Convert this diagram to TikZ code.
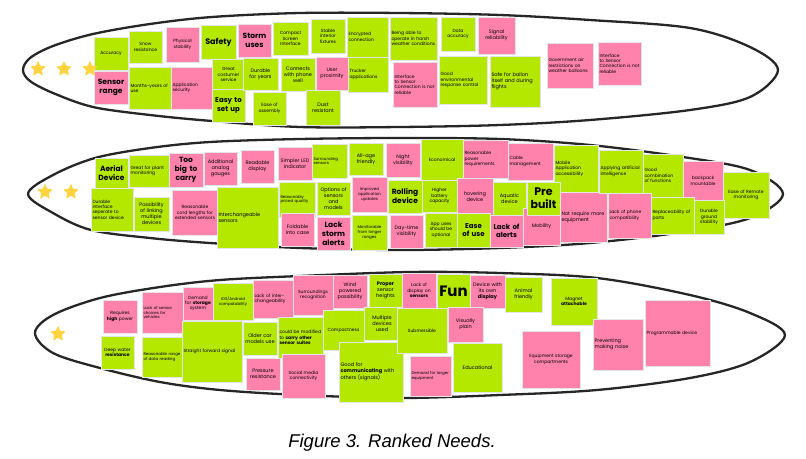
\documentclass[tikz,border=0pt]{standalone}
\usepackage{fontspec}
\setmainfont{Poppins}
\newfontfamily\capfont{Liberation Sans}
\usetikzlibrary{shapes.geometric}
\definecolor{grnC}{RGB}{180,232,0}
\definecolor{pnkC}{RGB}{255,130,172}
\definecolor{starC}{RGB}{255,212,64}
\hyphenpenalty=10000\relax
\exhyphenpenalty=10000\relax
\tikzset{
 stkbase/.style={inner sep=0pt, draw=black!10, line width=0.5pt, text=black},
 grn/.style={stkbase, fill=grnC, align=center},
 pnk/.style={stkbase, fill=pnkC, align=center},
 grnl/.style={stkbase, fill=grnC, align=left},
 pnkl/.style={stkbase, fill=pnkC, align=left},
 starmark/.style={star, star points=5, star point ratio=2.3, fill=starC, minimum size=17pt, inner sep=0pt, rounded corners=1pt},
 lens/.style={line width=2.3pt, draw=black!85}
}
\newcommand\stk[8]{%
 \pgfmathsetmacro\stkw{#4-#2}\pgfmathsetmacro\stkh{#5-#3}%
 \pgfmathsetmacro\stkx{(#2+#4)/2}\pgfmathsetmacro\stky{(#3+#5)/2}%
 \pgfmathsetmacro\stkt{#4-#2-3}\pgfmathsetmacro\stkl{#7*1.2}%
 \node[#6, minimum width=\stkw pt, minimum height=\stkh pt, text width=\stkt pt, font=\fontsize{#7}{\stkl}\selectfont] (#1) at (\stkx,\stky) {#8};}
\begin{document}
\begin{tikzpicture}[x=1pt,y=-1pt]
\fill[white] (0,0) rectangle (806,458);
\useasboundingbox (0,0) rectangle (806,458);
% lenses
\draw[lens] plot[smooth cycle, tension=0.55] coordinates {(23,70) (30,58) (53,46) (93,34) (150,24) (212,17) (300,13) (400,13) (500,15) (590,20) (690,28) (750,47) (778,70) (750,97) (690,110) (590,120) (500,125) (400,127) (300,127) (212,121) (150,115) (93,107) (53,93) (30,81)};
\draw[lens] plot[smooth cycle, tension=0.55] coordinates {(28,194) (53,175) (95,158) (150,148) (210,142) (300,139) (400,138) (500,139) (590,145) (683,157) (750,170) (783,194) (750,218) (683,232) (590,243) (500,248) (400,250) (300,248) (210,243) (150,238) (91,230) (53,213)};
\draw[lens] plot[smooth cycle, tension=0.55] coordinates {(35,333) (53,315) (100,298) (160,287) (220,280) (300,276) (410,272) (500,273) (597,278) (690,295) (750,313) (785,335) (750,362) (690,378) (597,390) (500,395) (400,398) (300,395) (220,390) (160,382) (100,368) (53,353)};
% top row
\stk{t1}{94}{37}{128}{70}{grn}{4.5}{Accuracy}
\stk{t2}{129}{31}{162}{63}{grn}{4.5}{Snow resistance}
\stk{t3}{166}{27}{199}{62}{pnk}{4.5}{Physical stability}
\stk{t4}{201}{25}{236}{59}{grn}{8}{\bfseries Safety}
\stk{t5}{94}{71}{128}{104}{pnk}{7.5}{\bfseries Sensor range}
\stk{t6}{129}{67}{171}{109}{grnl}{4.5}{Months-years of use}
\stk{t7}{171}{67}{213}{109}{pnkl}{4.5}{Application security}
\stk{t8}{212}{59}{245}{90}{grn}{4.5}{Great costumer service}
\stk{t9}{212}{89}{245}{122}{grn}{7}{\bfseries Easy to set up}
\stk{t10}{238}{24}{271}{57}{pnk}{7.5}{\bfseries Storm uses}
\stk{t11}{273}{22}{308}{55}{grn}{4.5}{Compact Screen Interface}
\stk{t12}{311}{19}{345}{53}{grn}{4.5}{Stable interior fixtures}
\stk{t13}{347}{17}{388}{57}{grnl}{4.5}{Encrypted connection}
\stk{t14}{390}{17}{437}{60}{grnl}{4.5}{Being able to operate in harsh weather conditions}
\stk{t15}{243}{58}{278}{90}{grn}{5}{Durable for years}
\stk{t16}{281}{58}{315}{91}{grn}{5}{Connects with phone well}
\stk{t17}{316}{57}{348}{90}{pnk}{5}{User proximity}
\stk{t18}{348}{57}{388}{92}{grnl}{4.5}{Trucker applications}
\stk{t19}{393}{62}{437}{107}{pnkl}{4.5}{Interface to Sensor Connection is not reliable}
\stk{t20}{253}{92}{286}{125}{grn}{4.5}{Ease of assembly}
\stk{t21}{306}{90}{340}{125}{grn}{5}{Dust resistant}
\stk{t22}{441}{17}{475}{51}{grn}{4.5}{Data accuracy}
\stk{t23}{478}{17}{515}{54}{pnk}{5}{Signal reliability}
\stk{t24}{439}{56}{487}{104}{grnl}{4.5}{Good environmental response control}
\stk{t25}{490}{56}{540}{107}{grnl}{5}{Safe for ballon itself and during flights}
\stk{t26}{547}{43}{593}{88}{pnkl}{4.5}{Government air restrictions on weather balloons}
\stk{t27}{598}{42}{641}{85}{pnkl}{4.5}{Interface to Sensor Connection is not reliable}
% middle row
\stk{m1}{95}{158}{128}{188}{grn}{7.5}{\bfseries Aerial Device}
\stk{m2}{129}{155}{169}{187}{grnl}{4.5}{Great for plant monitoring}
\stk{m3}{169}{153}{203}{187}{pnk}{7.5}{\bfseries Too big to carry}
\stk{m4}{204}{152}{237}{185}{pnk}{5}{Additional analog gauges}
\stk{m5}{91}{188}{133}{231}{grnl}{4.5}{Durable interface seperate to sensor device}
\stk{m6}{134}{197}{169}{231}{grn}{5}{Possibility of linking multiple devices}
\stk{m7}{172}{190}{218}{235}{pnk}{4.5}{Reasonable cord lengths for extended sensors}
\stk{m8}{217}{187}{278}{248}{grnl}{5}{Interchangeable sensors}
\stk{m9}{241}{150}{274}{183}{pnk}{5}{Readable display}
\stk{m10}{278}{147}{312}{180}{pnk}{5}{Simpler LED indicator}
\stk{m11}{312}{144}{347}{178}{grnl}{4}{Surrounding sensors}
\stk{m12}{349}{143}{383}{175}{grn}{5}{All-age friendly}
\stk{m13}{386}{143}{420}{177}{pnk}{5}{Night visibility}
\stk{m14}{279}{182}{315}{217}{grnl}{4}{Reasonably priced quality}
\stk{m15}{317}{182}{350}{215}{grn}{5}{Options of sensors and models}
\stk{m16}{352}{177}{387}{212}{pnk}{4}{Improved application updates}
\stk{m17}{388}{180}{422}{213}{grn}{7.5}{\bfseries Rolling device}
\stk{m18}{281}{213}{314}{246}{pnk}{5}{Foldable into case}
\stk{m19}{317}{217}{350}{250}{pnk}{7.5}{\bfseries Lack storm alerts}
\stk{m20}{352}{215}{387}{250}{grn}{4}{Monitorable from longer ranges}
\stk{m21}{390}{215}{423}{248}{pnk}{5}{Day-time visibility}
\stk{m22}{421}{139}{463}{180}{grn}{4.5}{Economical}
\stk{m23}{463}{140}{508}{178}{pnkl}{4.5}{Reasonable power requirements}
\stk{m24}{508}{143}{553}{180}{pnkl}{4.5}{Cable management}
\stk{m25}{554}{145}{598}{192}{grnl}{4.5}{Mobile Application accessibility}
\stk{m26}{422}{180}{457}{212}{grn}{4.5}{Higher battery capacity}
\stk{m27}{457}{178}{493}{215}{pnk}{5}{hovering device}
\stk{m28}{493}{182}{526}{215}{grn}{5}{Aquatic device}
\stk{m33}{523}{208}{560}{245}{pnk}{5}{Mobility}
\stk{m29}{527}{182}{560}{215}{grn}{11}{\bfseries Pre built}
\stk{m30}{425}{213}{457}{247}{grn}{4.5}{App uses should be optional}
\stk{m31}{457}{213}{490}{247}{grn}{7}{\bfseries Ease of use}
\stk{m32}{490}{215}{523}{247}{pnk}{7}{\bfseries Lack of alerts}
\stk{m34}{560}{192}{607}{242}{pnkl}{5}{Not require more equipment}
\stk{m35}{599}{150}{643}{193}{grnl}{4.5}{Applying artificial intelligence}
\stk{m36}{643}{154}{683}{197}{grnl}{4.5}{Good combination of functions}
\stk{m37}{683}{161}{723}{201}{pnk}{4.5}{backpack mountable}
\stk{m38}{723}{172}{769}{218}{grn}{4.5}{Ease of Remote monitoring}
\stk{m39}{608}{193}{651}{238}{pnkl}{4.5}{Lack of phone compatibility}
\stk{m40}{651}{197}{694}{234}{grnl}{4.5}{Replaceability of parts}
\stk{m41}{694}{200}{724}{234}{grn}{4.5}{Durable ground stability}
% bottom row
\stk{b1}{103}{300}{137}{333}{pnk}{4.5}{Requires \textbf{high} power}
\stk{b2}{101}{336}{134}{369}{grn}{4.5}{Deep water \textbf{resistance}}
\stk{b3}{142}{292}{183}{333}{pnkl}{4}{Lack of sensor choices for vehicles}
\stk{b4}{142}{337}{182}{377}{grnl}{4}{Reasonable range of data reading}
\stk{b5}{183}{287}{213}{320}{pnk}{4.5}{Demand for \textbf{storage} system}
\stk{b6}{182}{321}{242}{382}{grnl}{4.5}{Straight forward signal}
\stk{b7}{213}{283}{253}{320}{grn}{4}{IOS/Android compatability}
\stk{b8}{253}{280}{293}{318}{pnkl}{4.5}{Lack of inter-\\changeability}
\stk{b9}{293}{275}{333}{315}{pnk}{4.5}{Surroundings recognition}
\stk{b10}{333}{275}{367}{308}{pnk}{5}{Wind powered possibility}
\stk{b11}{369}{274}{402}{307}{grn}{5}{\textbf{Proper} sensor heights}
\stk{b12}{402}{273}{436}{308}{pnk}{4.5}{Lack of display on \textbf{sensors}}
\stk{b13}{243}{322}{277}{355}{grn}{5}{Older car models use}
\stk{b14}{278}{317}{323}{358}{grnl}{4.5}{could be modified to \textbf{carry other sensor suites}}
\stk{b15}{323}{310}{364}{350}{grn}{4.5}{Compactness}
\stk{b16}{364}{307}{400}{340}{grn}{5}{Multiple devices used}
\stk{b20}{339}{342}{403}{402}{grnl}{5}{Good for \textbf{communicating} with others (signals)}
\stk{b17}{397}{308}{447}{353}{grn}{4.5}{Submersible}
\stk{b18}{246}{358}{280}{390}{pnk}{5}{Pressure resistance}
\stk{b19}{282}{354}{325}{398}{pnk}{4.5}{Social media connectivity}
\stk{b21}{437}{274}{470}{308}{grn}{15}{\bfseries Fun}
\stk{b22}{470}{275}{505}{308}{pnk}{5}{Device with its own \textbf{display}}
\stk{b23}{505}{277}{542}{312}{grn}{5}{Animal friendly}
\stk{b24}{448}{307}{483}{342}{pnk}{5}{Visually plain}
\stk{b25}{453}{343}{502}{392}{grn}{5}{Educational}
\stk{b26}{410}{356}{451}{396}{pnkl}{4}{Demand for larger equipment}
\stk{b27}{551}{278}{597}{325}{grn}{4.5}{Magnet \textbf{attachable}}
\stk{b28}{522}{331}{580}{388}{pnk}{4.5}{Equipment storage compartments}
\stk{b29}{593}{319}{643}{370}{pnkl}{5}{Preventing making noise}
\stk{b30}{645}{300}{710}{366}{pnkl}{4.5}{Programmable device}
% stars
\node[starmark] (s1) at (38,69) {};
\node[starmark] (s2) at (64,69) {};
\node[starmark] (s3) at (90,69) {};
\node[starmark] (s4) at (45,192) {};
\node[starmark] (s5) at (71,192) {};
\node[starmark] (s6) at (58,334) {};
% caption
\node[font=\capfont\itshape\fontsize{18.5}{22}\selectfont] (cap) at (392,443) {Figure 3. Ranked Needs.};
\end{tikzpicture}
\end{document}
